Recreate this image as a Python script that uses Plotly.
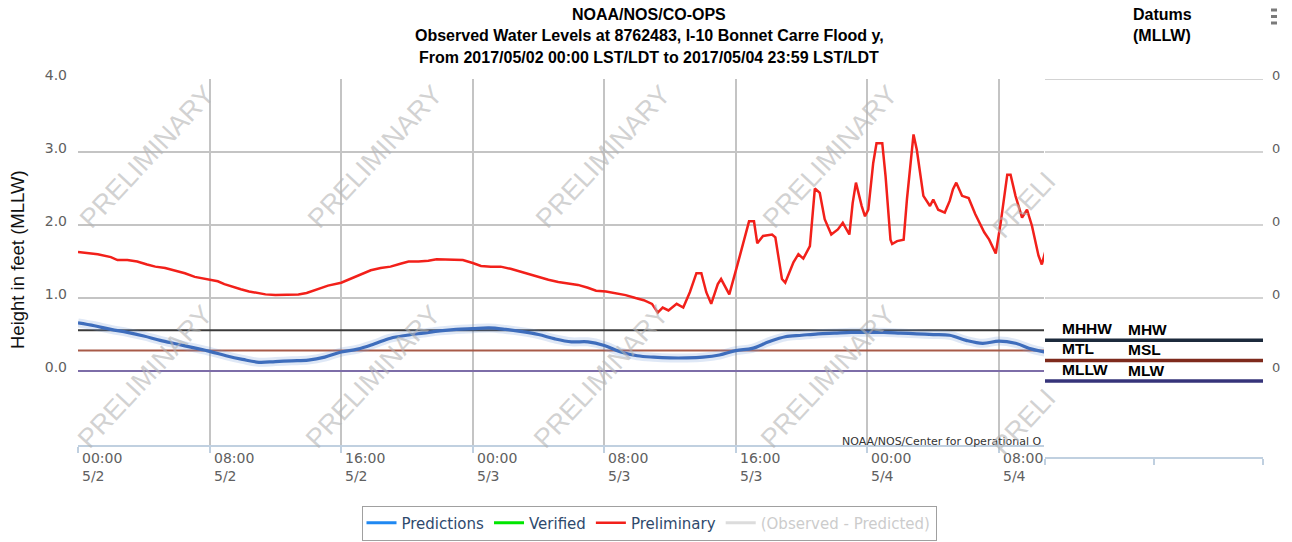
import pandas as pd
import plotly.graph_objects as go

W, H = 1292, 542
BASE = pd.Timestamp("2017-05-02 00:00")

# ---------------- data ----------------
pred_hours = list(range(0, 60))
pred_values = [0.66, 0.62, 0.57, 0.53, 0.48, 0.42, 0.37, 0.32, 0.27, 0.21,
               0.16, 0.12, 0.13, 0.14, 0.15, 0.19, 0.26, 0.30, 0.37, 0.45,
               0.49, 0.52, 0.55, 0.57, 0.58, 0.59, 0.57, 0.54, 0.50, 0.44,
               0.40, 0.40, 0.35, 0.26, 0.21, 0.19, 0.18, 0.18, 0.19, 0.22,
               0.28, 0.31, 0.40, 0.47, 0.49, 0.51, 0.52, 0.53, 0.53, 0.53,
               0.52, 0.51, 0.50, 0.49, 0.42, 0.38, 0.41, 0.38, 0.30, 0.25]

prelim_hours = [0.0, 0.5, 1.2, 2.0, 2.4, 3.0, 3.6, 4.2, 4.7, 5.3, 5.9, 6.5, 7.1, 7.6,
                8.0, 8.5, 8.9, 9.4, 9.9, 10.4, 10.8, 11.4, 12.0, 12.7, 13.4, 13.9,
                14.3, 15.2, 16.0, 16.9, 17.8, 18.4, 19.0, 19.6, 20.1, 20.7, 21.3,
                21.8, 22.2, 22.8, 23.4, 24.0, 24.5, 25.1, 25.7, 26.3, 26.9, 27.5,
                28.0, 28.6, 29.2, 29.8, 30.4, 31.0, 31.5, 32.1, 32.7, 33.3, 33.9,
                34.4, 34.9, 35.25, 35.55, 35.9, 36.4, 36.8, 37.2, 37.6, 37.9, 38.2,
                38.5, 38.9, 39.1, 39.6, 40.1, 40.5, 40.8, 41.1, 41.3, 41.65, 42.2,
                42.4, 42.8, 43.0, 43.5, 43.8, 44.1, 44.5, 44.8, 45.1, 45.4, 45.8,
                46.2, 46.5, 46.9, 47.1, 47.3, 47.65, 47.85, 48.05, 48.35, 48.55,
                48.9, 49.1, 49.4, 49.5, 49.8, 50.2, 50.4, 50.8, 51.0, 51.4, 51.8,
                52.0, 52.3, 52.7, 53.0, 53.2, 53.4, 53.75, 54.15, 54.55, 55.1,
                55.4, 55.8, 56.1, 56.5, 56.7, 57.0, 57.4, 57.7, 58.0, 58.4, 58.6,
                58.9]
prelim_values = [1.63, 1.62, 1.60, 1.56, 1.52, 1.52, 1.50, 1.46, 1.43, 1.41, 1.38, 1.34,
                 1.29, 1.27, 1.26, 1.23, 1.19, 1.15, 1.12, 1.09, 1.07, 1.05, 1.04, 1.05,
                 1.05, 1.07, 1.10, 1.17, 1.21, 1.29, 1.38, 1.41, 1.43, 1.47, 1.50, 1.50,
                 1.51, 1.53, 1.53, 1.53, 1.52, 1.48, 1.44, 1.43, 1.43, 1.40, 1.36, 1.32,
                 1.29, 1.25, 1.22, 1.20, 1.18, 1.14, 1.10, 1.09, 1.07, 1.04, 1.00, 0.97,
                 0.92, 0.80, 0.87, 0.83, 0.92, 0.87, 1.08, 1.34, 1.34, 1.08, 0.92, 1.19,
                 1.26, 1.05, 1.46, 1.80, 2.05, 2.05, 1.75, 1.85, 1.87, 1.83, 1.26, 1.21,
                 1.49, 1.60, 1.54, 1.71, 2.50, 2.44, 2.08, 1.87, 1.94, 2.03, 1.87, 2.30,
                 2.58, 2.26, 2.12, 2.21, 2.85, 3.12, 3.12, 2.67, 1.80, 1.74, 1.78, 1.80,
                 2.35, 3.24, 3.03, 2.40, 2.26, 2.35, 2.21, 2.17, 2.33, 2.49, 2.58, 2.40,
                 2.37, 2.15, 1.90, 1.80, 1.61, 2.03, 2.69, 2.69, 2.40, 2.10, 2.21, 1.99,
                 1.58, 1.46, 1.71]

# series with no plotted values in the picture (legend entries only)
verified_hours = [0]
verified_values = [None]
diff_hours = [0]
diff_values = [None]

datum_left = ["MHHW", "MTL", "MLLW"]
datum_right = ["MHW", "MSL", "MLW"]
datum_values = [0.56, 0.28, 0.0]
datum_main_colors = ["#3a3a3a", "#a85a48", "#7d6da8"]
datum_panel_colors = ["#1c2a3c", "#7e2a1c", "#36347a"]

y_ticks = [0, 1, 2, 3, 4]
y_tick_labels = ["0.0", "1.0", "2.0", "3.0", "4.0"]
panel_tick_labels = ["0", "0", "0", "0", "0"]
x_tick_hours = [0, 8, 16, 24, 32, 40, 48, 56]
x_tick_labels = ["00:00<br>5/2", "08:00<br>5/2", "16:00<br>5/2", "00:00<br>5/3",
                 "08:00<br>5/3", "16:00<br>5/3", "00:00<br>5/4", "08:00<br>5/4"]

title_lines = ["NOAA/NOS/CO-OPS",
               "Observed Water Levels at 8762483, I-10 Bonnet Carre Flood y,",
               "From 2017/05/02 00:00 LST/LDT to 2017/05/04 23:59 LST/LDT"]
datum_header = ["Datums", "(MLLW)"]
y_title = "Height in feet (MLLW)"
credit = "NOAA/NOS/Center for Operational O"
watermark = "PRELIMINARY"

# ---------------- helpers ----------------
def t(h):
    return (BASE + pd.Timedelta(minutes=round(h * 60))).strftime("%Y-%m-%d %H:%M:%S")

def px(x):
    return x / W

def py(y):
    return 1 - y / H

X_END_H = 58.74
PANEL_SHIFT = 10 / 73.0

fig = go.Figure()

# datum levels across the main plot (under the series)
for v, c in zip(datum_values, datum_main_colors):
    fig.add_trace(go.Scatter(x=[t(0), t(X_END_H)], y=[v, v], mode="lines",
                             line=dict(color=c, width=2), showlegend=False,
                             hoverinfo="skip"))

pred_x = [t(h) for h in pred_hours]
fig.add_trace(go.Scatter(x=pred_x, y=pred_values, mode="lines", line_shape="spline",
                         line=dict(color="rgba(110,150,215,0.22)", width=9),
                         showlegend=False, hoverinfo="skip", legendgroup="pred"))
fig.add_trace(go.Scatter(x=pred_x, y=pred_values, mode="lines", line_shape="spline",
                         line=dict(color="#3e6dbc", width=3.2),
                         showlegend=False, legendgroup="pred", name="Predictions"))
fig.add_trace(go.Scatter(x=[t(h) for h in verified_hours], y=verified_values, mode="lines",
                         name="Predictions", legendgroup="pred",
                         line=dict(color="#1f88f2", width=3)))
fig.add_trace(go.Scatter(x=[t(h) for h in verified_hours], y=verified_values, mode="lines",
                         name="Verified", line=dict(color="#00e600", width=3)))
fig.add_trace(go.Scatter(x=[t(h) for h in prelim_hours], y=prelim_values, mode="lines",
                         name="Preliminary", line=dict(color="#f2201a", width=2.5)))
fig.add_trace(go.Scatter(x=[t(h) for h in diff_hours], y=diff_values, mode="lines",
                         name='<span style="color:#9a9a9a">(Observed - Predicted)</span>',
                         visible="legendonly", line=dict(color="#bbbbbb", width=3)))

shapes = []
for k in y_ticks[1:]:
    shapes.append(dict(type="line", xref="x2 domain", yref="y2", x0=0, x1=1,
                       y0=k + PANEL_SHIFT, y1=k + PANEL_SHIFT,
                       line=dict(color="#c4c4c4", width=1.5), layer="below"))
for v, c in zip(datum_values, datum_panel_colors):
    shapes.append(dict(type="line", xref="x2 domain", yref="y2", x0=0, x1=1,
                       y0=v, y1=v, line=dict(color=c, width=3.5), layer="above"))
# menu icon
for yy in (8.5, 15.0, 21.5):
    shapes.append(dict(type="rect", xref="paper", yref="paper", x0=px(1271), x1=px(1277),
                       y0=py(yy + 3), y1=py(yy), line=dict(width=0), fillcolor="#7a7a7a",
                       layer="above"))

ann = []
bold = dict(family="Liberation Sans", size=16, color="#000", weight="bold")
for i, line in enumerate(title_lines):
    ann.append(dict(text=line, x=px(649), y=py(15 + 21 * i), xref="paper", yref="paper",
                    xanchor="center", yanchor="middle", showarrow=False, font=bold))
for i, line in enumerate(datum_header):
    ann.append(dict(text=line, x=px(1131), y=py(15 + 20 * i), xref="paper", yref="paper",
                    xanchor="left", yanchor="middle", showarrow=False, font=bold))
ann.append(dict(text=y_title, x=px(18), y=py(260), xref="paper", yref="paper",
                textangle=-90, showarrow=False, xanchor="center", yanchor="middle",
                font=dict(family="Liberation Sans", size=18.5, color="#111")))
for h, lab in zip(x_tick_hours, x_tick_labels):
    ann.append(dict(text=lab, x=t(h), xref="x", y=py(448), yref="paper",
                    xanchor="left", yanchor="top", align="left", xshift=2, showarrow=False,
                    font=dict(family="DejaVu Sans", size=14, color="#606060")))
ann.append(dict(text=credit, x=px(1044), y=py(441), xref="paper", yref="paper",
                xanchor="right", yanchor="middle", showarrow=False,
                font=dict(family="DejaVu Sans", size=11, color="#333")))
for name_l, name_r, v in zip(datum_left, datum_right, datum_values):
    ann.append(dict(text=name_l, x=px(1060), y=v, xref="paper", yref="y2",
                    xanchor="left", yanchor="middle", yshift=12, showarrow=False,
                    font=dict(bold, size=15.5)))
    ann.append(dict(text=name_r, x=px(1126), y=v, xref="paper", yref="y2",
                    xanchor="left", yanchor="middle", yshift=11, showarrow=False,
                    font=dict(bold, size=15.5)))
# watermarks
wm_font = dict(family="Liberation Sans", size=27, color="rgba(180,180,180,0.6)")
for cx in (147, 375, 603, 830):
    ann.append(dict(text=watermark, x=px(cx), y=py(157), xref="paper", yref="paper",
                    xanchor="center", yanchor="middle",
                    textangle=-47, showarrow=False, font=wm_font))
    ann.append(dict(text=watermark, x=px(cx - 2), y=py(377), xref="paper", yref="paper",
                    xanchor="center", yanchor="middle",
                    textangle=-47, showarrow=False, font=wm_font))
for cy in (205, 422):
    ann.append(dict(text=watermark[:5], x=px(1024), y=py(cy), xref="paper", yref="paper",
                    xanchor="center", yanchor="middle",
                    textangle=-47, showarrow=False, font=wm_font))

fig.update_layout(
    width=W, height=H, margin=dict(l=0, r=0, t=0, b=0, pad=0, autoexpand=False),
    paper_bgcolor="white", plot_bgcolor="white",
    xaxis=dict(type="date", domain=[px(78), px(1044)], range=[t(0), t(X_END_H)],
               tickvals=[t(h) for h in x_tick_hours], showticklabels=False,
               showgrid=True, gridcolor="#c4c4c4", gridwidth=1.5,
               ticks="outside", ticklen=6, tickcolor="#c0d0e0", tickwidth=1.5,
               showline=True, linecolor="#c0d0e0", linewidth=2, zeroline=False,
               anchor="y", fixedrange=True, automargin=False),
    yaxis=dict(domain=[py(445), py(79)], range=[-1.013, 4.0], tickvals=y_ticks,
               ticktext=y_tick_labels, showgrid=True, gridcolor="#c4c4c4", gridwidth=1.5,
               zeroline=False, showline=False, ticks="", ticklabelstandoff=10,
               ticklabelshift=-4, tickfont=dict(family="DejaVu Sans", size=14, color="#606060"),
               anchor="x", fixedrange=True, automargin=False),
    xaxis2=dict(domain=[px(1045), px(1263)], range=[0, 2], tickvals=[0, 1, 2],
                showticklabels=False, showgrid=False, zeroline=False,
                ticks="outside", ticklen=6, tickcolor="#c0d0e0", tickwidth=1.5,
                showline=True, linecolor="#c0d0e0", linewidth=2, anchor="y2",
                automargin=False),
    yaxis2=dict(domain=[py(457), py(79)], range=[-1.041, 4.137], side="right",
                tickvals=[k + PANEL_SHIFT for k in y_ticks], ticktext=panel_tick_labels,
                showgrid=False, zeroline=False, showline=False, ticks="",
                ticklabelstandoff=8, ticklabelshift=-4, automargin=False,
                tickfont=dict(family="DejaVu Sans", size=13, color="#606060"), anchor="x2"),
    legend=dict(orientation="h", x=px(649), xanchor="center", y=py(523), yanchor="middle",
                bordercolor="#a0a0a0", borderwidth=1, bgcolor="white",
                font=dict(family="DejaVu Sans", size=15, color="#2f4a6d"), itemwidth=30),
    shapes=shapes, annotations=ann, showlegend=True,
)

fig.write_html(
    "out.html", config={"displayModeBar": False},
    post_script=("document.body.style.margin='0';document.body.style.overflow='hidden';"
                 "var d=document.getElementById('{plot_id}');"
                 "d.style.position='fixed';d.style.left='0px';d.style.top='0px';"))
